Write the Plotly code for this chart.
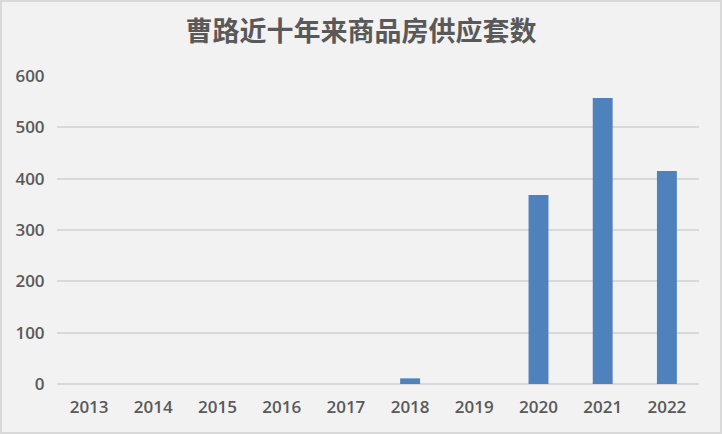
import plotly.graph_objects as go

# 曹路 new housing supply (units) per year
years = ["2013", "2014", "2015", "2016", "2017", "2018", "2019", "2020", "2021", "2022"]
units = [0, 0, 0, 0, 0, 11, 0, 368, 557, 415]
y_ticks = [0, 100, 200, 300, 400, 500, 600]

W, H = 722, 434
ml, mr, mt, mb = 57, 23, 76, 50
pw, ph = W - ml - mr, H - mt - mb

fig = go.Figure(go.Bar(
    x=years, y=units,
    marker=dict(color="#4f81bd", line=dict(width=0)),
    hoverinfo="x+y",
))

fig.update_layout(
    width=W, height=H,
    margin=dict(l=ml, r=mr, t=mt, b=mb),
    paper_bgcolor="#f2f2f2",
    plot_bgcolor="#f2f2f2",
    bargap=0.69,
    showlegend=False,
    title=dict(
        text="<b>曹路近十年来商品房供应套数</b>",
        x=0.5, xanchor="center",
        y=1 - 32 / H, yanchor="middle",
        font=dict(family="Noto Sans CJK SC", size=27, color="#595959"),
    ),
    xaxis=dict(
        showgrid=False, showline=False, zeroline=False,
        ticks="outside", ticklen=8, tickcolor="rgba(0,0,0,0)",
        tickfont=dict(family="Open Sans", size=17, color="#595959", weight=600),
    ),
    yaxis=dict(
        range=[0, 600], tickvals=y_ticks,
        showgrid=True, gridcolor="#d9d9d9", gridwidth=2,
        zeroline=True, zerolinecolor="#d9d9d9", zerolinewidth=2,
        showline=False,
        ticks="outside", ticklen=8, tickcolor="rgba(0,0,0,0)",
        tickfont=dict(family="Open Sans", size=17, color="#595959", weight=600),
    ),
)

# light grey frame round the whole chart
fig.add_shape(
    type="rect", xref="paper", yref="paper",
    x0=(-ml + 1) / pw, x1=1 + (mr - 1) / pw,
    y0=(-mb + 1) / ph, y1=1 + (mt - 1) / ph,
    line=dict(color="#d9d9d9", width=2),
    layer="below",
)

fig.write_html(
    "out.html",
    config={"displayModeBar": False},
    post_script="document.body.style.margin='0';document.body.style.overflow='hidden';",
)
